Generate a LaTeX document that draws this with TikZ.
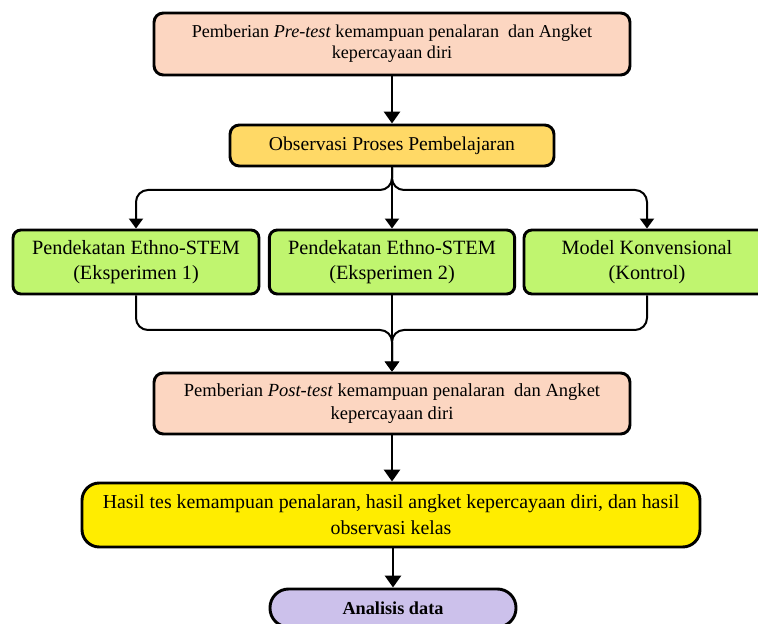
\documentclass[tikz,border=0pt]{standalone}
\usepackage{fontspec}
\setmainfont{Liberation Serif}
\usepackage{tikz}
\usepackage{xcolor}
\usetikzlibrary{arrows.meta}

\definecolor{salmonbox}{HTML}{FCD6C1}
\definecolor{obsbox}{HTML}{FFD966}
\definecolor{greenbox}{HTML}{C0F56F}
\definecolor{yellowbox}{HTML}{FFED00}
\definecolor{purplebox}{HTML}{CCC1EB}

\begin{document}
\begin{tikzpicture}[x=0.75pt,y=-0.75pt,
        box/.style 2 args={draw=black, line width=2.2pt, rounded corners=7pt, align=center,
            inner sep=0pt, font=\fontsize{#1}{#2}\selectfont},
        mainarrow/.style={line width=2.2pt, -{Triangle[width=12pt,length=9pt]}},
        branch/.style={line width=1.5pt, rounded corners=9pt, -{Triangle[width=10.5pt,length=7.5pt]}}]
    \useasboundingbox (0,0) rectangle (758,624);
    \clip (0,0) rectangle (758,624);

    % Tahap awal
    \node[box={13.6}{16}, fill=salmonbox, minimum width=357pt, minimum height=46.5pt] (pretest) at (392,44)
        {Pemberian \textit{Pre-test} kemampuan penalaran\ \ dan Angket\\kepercayaan diri};
    \node[box={14.7}{17}, fill=obsbox, minimum width=243pt, minimum height=30.75pt] (observasi) at (392,145.5)
        {Observasi Proses Pembelajaran};

    % Kelas perlakuan
    \node[box={15.2}{19}, fill=greenbox, rounded corners=6pt, minimum width=184.5pt, minimum height=48pt] (eksp1) at (136,262)
        {Pendekatan Ethno-STEM\\(Eksperimen 1)};
    \node[box={15.2}{19}, fill=greenbox, rounded corners=6pt, minimum width=184pt, minimum height=48pt] (eksp2) at (392,262)
        {Pendekatan Ethno-STEM\\(Eksperimen 2)};
    \node[box={15.2}{19}, fill=greenbox, rounded corners=6pt, minimum width=184.5pt, minimum height=48pt] (kontrol) at (647,262)
        {Model Konvensional\\(Kontrol)};

    % Tahap akhir
    \node[box={13.9}{17}, fill=salmonbox, minimum width=357pt, minimum height=45.75pt] (posttest) at (392,403.5)
        {Pemberian \textit{Post-test} kemampuan penalaran\ \ dan Angket\\kepercayaan diri};
    \node[box={14.9}{19.5}, fill=yellowbox, rounded corners=13pt, minimum width=463.5pt, minimum height=48pt] (hasil) at (391,515)
        {Hasil tes kemampuan penalaran, hasil angket kepercayaan diri, dan hasil\\observasi kelas};
    \node[box={13.7}{16}, fill=purplebox, rounded corners=14pt, minimum width=184.5pt, minimum height=28.5pt] (analisis) at (393,608)
        {\textbf{Analisis data}};

    % Titik cabang
    \coordinate (cabang) at (392,190);
    \coordinate (gabung) at (392,330);

    % Panah utama
    \draw[mainarrow] (pretest.south) -- (observasi.north);
    \draw[mainarrow] (posttest.south) -- (posttest.south |- hasil.north);
    \draw[mainarrow] (hasil.south -| analisis.north) -- (analisis.north);

    % Percabangan ke tiga kelas
    \draw[branch] (observasi.south) -- (cabang) -| (eksp1.north);
    \draw[branch] (observasi.south) -- (cabang) -| (kontrol.north);
    \draw[branch] (observasi.south) -- (eksp2.north);

    % Penggabungan ke post-test
    \draw[branch] (eksp1.south) |- (gabung) -- (posttest.north);
    \draw[branch] (kontrol.south) |- (gabung) -- (posttest.north);
    \draw[branch] (eksp2.south) -- (posttest.north);
\end{tikzpicture}
\end{document}
